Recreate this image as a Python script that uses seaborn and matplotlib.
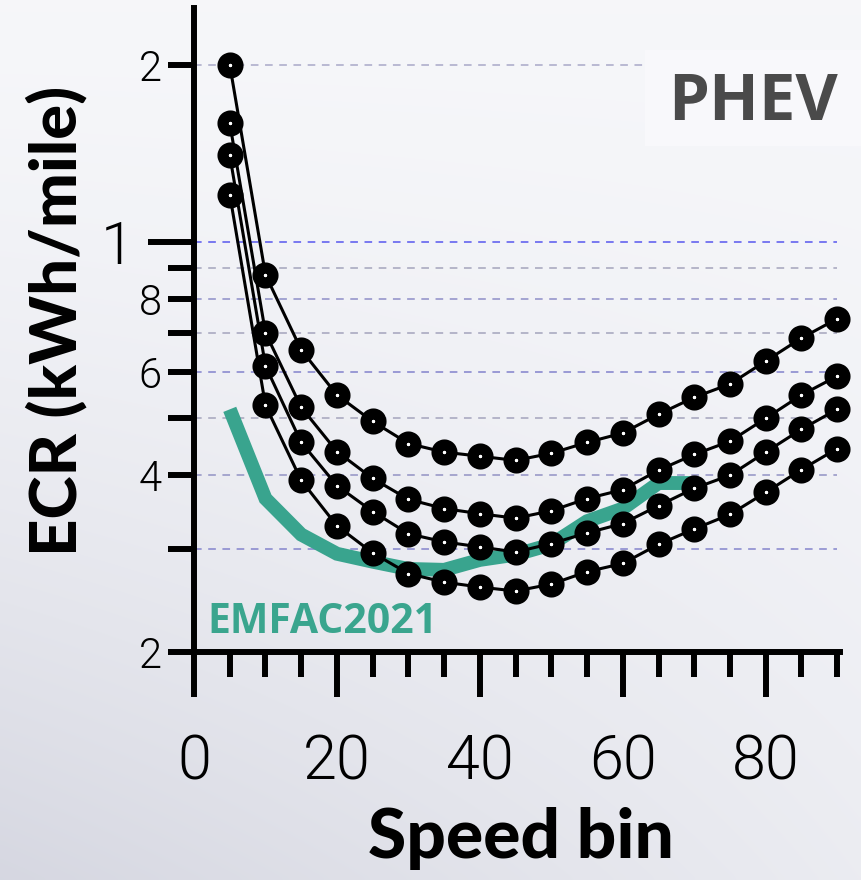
import numpy as np
import pandas as pd
import matplotlib
matplotlib.use("Agg")
import matplotlib.pyplot as plt
from matplotlib.patches import Rectangle
from matplotlib.ticker import NullFormatter
import seaborn as sns

# ---------------- data ----------------
speed = [5, 10, 15, 20, 25, 30, 35, 40, 45, 50, 55, 60, 65, 70, 75, 80, 85, 90]
ecr_a = [2.000, 0.878, 0.654, 0.548, 0.494, 0.453, 0.438, 0.431, 0.424, 0.436,
         0.455, 0.472, 0.508, 0.543, 0.572, 0.626, 0.685, 0.739]
ecr_b = [1.591, 0.699, 0.522, 0.439, 0.395, 0.364, 0.351, 0.344, 0.338, 0.348,
         0.365, 0.378, 0.408, 0.434, 0.457, 0.500, 0.548, 0.590]
ecr_c = [1.403, 0.614, 0.455, 0.384, 0.347, 0.318, 0.308, 0.302, 0.296, 0.306,
         0.319, 0.331, 0.355, 0.380, 0.400, 0.438, 0.479, 0.518]
ecr_d = [1.203, 0.526, 0.392, 0.328, 0.295, 0.272, 0.263, 0.258, 0.254, 0.261,
         0.274, 0.283, 0.305, 0.324, 0.343, 0.374, 0.409, 0.444]
series_names = ["A", "B", "C", "D"]

emfac_speed = [5, 10, 15, 20, 25, 30, 35, 40, 45, 50, 55, 60, 65, 70]
emfac_ecr = [0.518, 0.365, 0.317, 0.294, 0.285, 0.277, 0.276, 0.287, 0.293,
             0.305, 0.334, 0.351, 0.388, 0.388]

y_major = [0.2, 0.4, 0.6, 0.8, 1.0, 2.0]
y_major_labels = ["2", "4", "6", "8", "1", "2"]
y_minor = [0.3, 0.5, 0.7, 0.9]
x_major = [0, 20, 40, 60, 80]
x_major_labels = ["0", "20", "40", "60", "80"]
x_minor = [5, 10, 15, 25, 30, 35, 45, 50, 55, 65, 70, 75, 85, 90]
grid_levels = [2.0, 1.0, 0.9, 0.8, 0.7, 0.6, 0.5, 0.4, 0.3]
grid_colors = ["#a9a9c8", "#5757ee", "#a4a4bc", "#8e8ec8", "#a4a4bc",
               "#8282cc", "#a4a4bc", "#9292c4", "#8484cc"]

df = pd.DataFrame({
    "speed": speed * 4,
    "ecr": ecr_a + ecr_b + ecr_c + ecr_d,
    "series": [s for s in series_names for _ in speed],
})

# ---------------- style ----------------
sns.set_theme(style="white")
plt.rcParams["font.family"] = ["Lato", "DejaVu Sans"]
TICK_FONT = ["Roboto", "DejaVu Sans"]

fig = plt.figure(figsize=(8.62, 8.8), dpi=100)

# soft background gradient
bg = fig.add_axes([0, 0, 1, 1], zorder=-10)
H, W = 220, 216
yy, xx = np.mgrid[0:1:H * 1j, 0:1:W * 1j]
w = np.clip(0.85 * yy ** 1.6 * (1.0 - 0.75 * xx) + 0.12 * yy, 0, 1)
top = np.array([0.965, 0.968, 0.980])
low = np.array([0.835, 0.840, 0.880])
img = top[None, None, :] * (1 - w[..., None]) + low[None, None, :] * w[..., None]
bg.imshow(img, aspect="auto", extent=[0, 1, 0, 1], origin="upper", interpolation="bicubic")
bg.set_axis_off()

ax = fig.add_axes([0.2251, 0.2591, 0.7494, 0.7318])
ax.patch.set_alpha(0)

# EMFAC line
sns.lineplot(x=emfac_speed, y=emfac_ecr, color="#39a48e", linewidth=10,
             solid_joinstyle="miter", solid_capstyle="butt", ax=ax, zorder=2)

# measured lines
sns.lineplot(data=df, x="speed", y="ecr", units="series", estimator=None,
             color="black", linewidth=2.2, marker="o", markersize=10.8,
             markerfacecolor="white", markeredgecolor="black",
             markeredgewidth=8.0, ax=ax, zorder=3, clip_on=False, legend=False)

ax.set_yscale("log")
ax.set_ylim(0.2, 2.5)
ax.set_xlim(0, 90.4)

# dashed guide lines
ax.hlines(grid_levels, 0, 90, colors=grid_colors, linewidth=1.1,
          linestyles=(0, (5, 4.3)), zorder=0.5)

ax.set_yticks(y_major, labels=y_major_labels)
ax.set_yticks(y_minor, minor=True)
ax.yaxis.set_minor_formatter(NullFormatter())
ax.set_xticks(x_major, labels=x_major_labels)
ax.set_xticks(x_minor, minor=True)
ax.xaxis.set_minor_formatter(NullFormatter())

ax.tick_params(axis="y", which="both", length=18.5, width=4.3, color="black",
               pad=5, labelsize=30, direction="out", left=True)
ax.tick_params(axis="x", which="major", length=32.4, width=4.3, color="black",
               pad=26, labelsize=44, direction="out", bottom=True)
ax.tick_params(axis="x", which="minor", length=18, width=4.3, color="black",
               direction="out", bottom=True)
for lab in ax.get_xticklabels() + ax.get_yticklabels():
    lab.set_family(TICK_FONT)
    lab.set_fontweight(300)
    lab.set_color("black")

# the decade tick at 1 is longer with a larger label
t1 = ax.yaxis.get_major_ticks()[4]
t1.set_pad(5 + 20)
t1.tick1line.set_markersize(33)
t1.label1.set_fontsize(43)

for s in ["top", "right"]:
    ax.spines[s].set_visible(False)
for s in ["left", "bottom"]:
    ax.spines[s].set_linewidth(4.3)
    ax.spines[s].set_color("black")

ax.set_xlabel("")
ax.set_ylabel("")

# labels
fig.text(0.0893, 0.6352, "ECR (kWh/mile)", rotation=90, rotation_mode="anchor",
         ha="center", va="baseline", fontsize=47, fontweight="black", color="black")
fig.text(0.6044, 0.025, "Speed bin", ha="center", va="baseline",
         fontsize=50, fontweight="black", color="black")
fig.text(0.2401, 0.2807, "EMFAC2021", ha="left", va="baseline", fontsize=29.5,
         fontweight="bold", color="#3aa58e", family=["Open Sans", "DejaVu Sans"])

# PHEV tag
fig.add_artist(Rectangle((645 / 862, 1 - 146 / 880), (862 - 645) / 862, 96 / 880,
                         transform=fig.transFigure, facecolor="#f8f8fb",
                         edgecolor="none", zorder=5))
fig.text(0.873, 1 - 120 / 880, "PHEV", ha="center", va="baseline", fontsize=47,
         fontweight="bold", color="#4a4a4a", family=["Open Sans", "DejaVu Sans"],
         zorder=6)

fig.savefig("out.png", dpi=100)
